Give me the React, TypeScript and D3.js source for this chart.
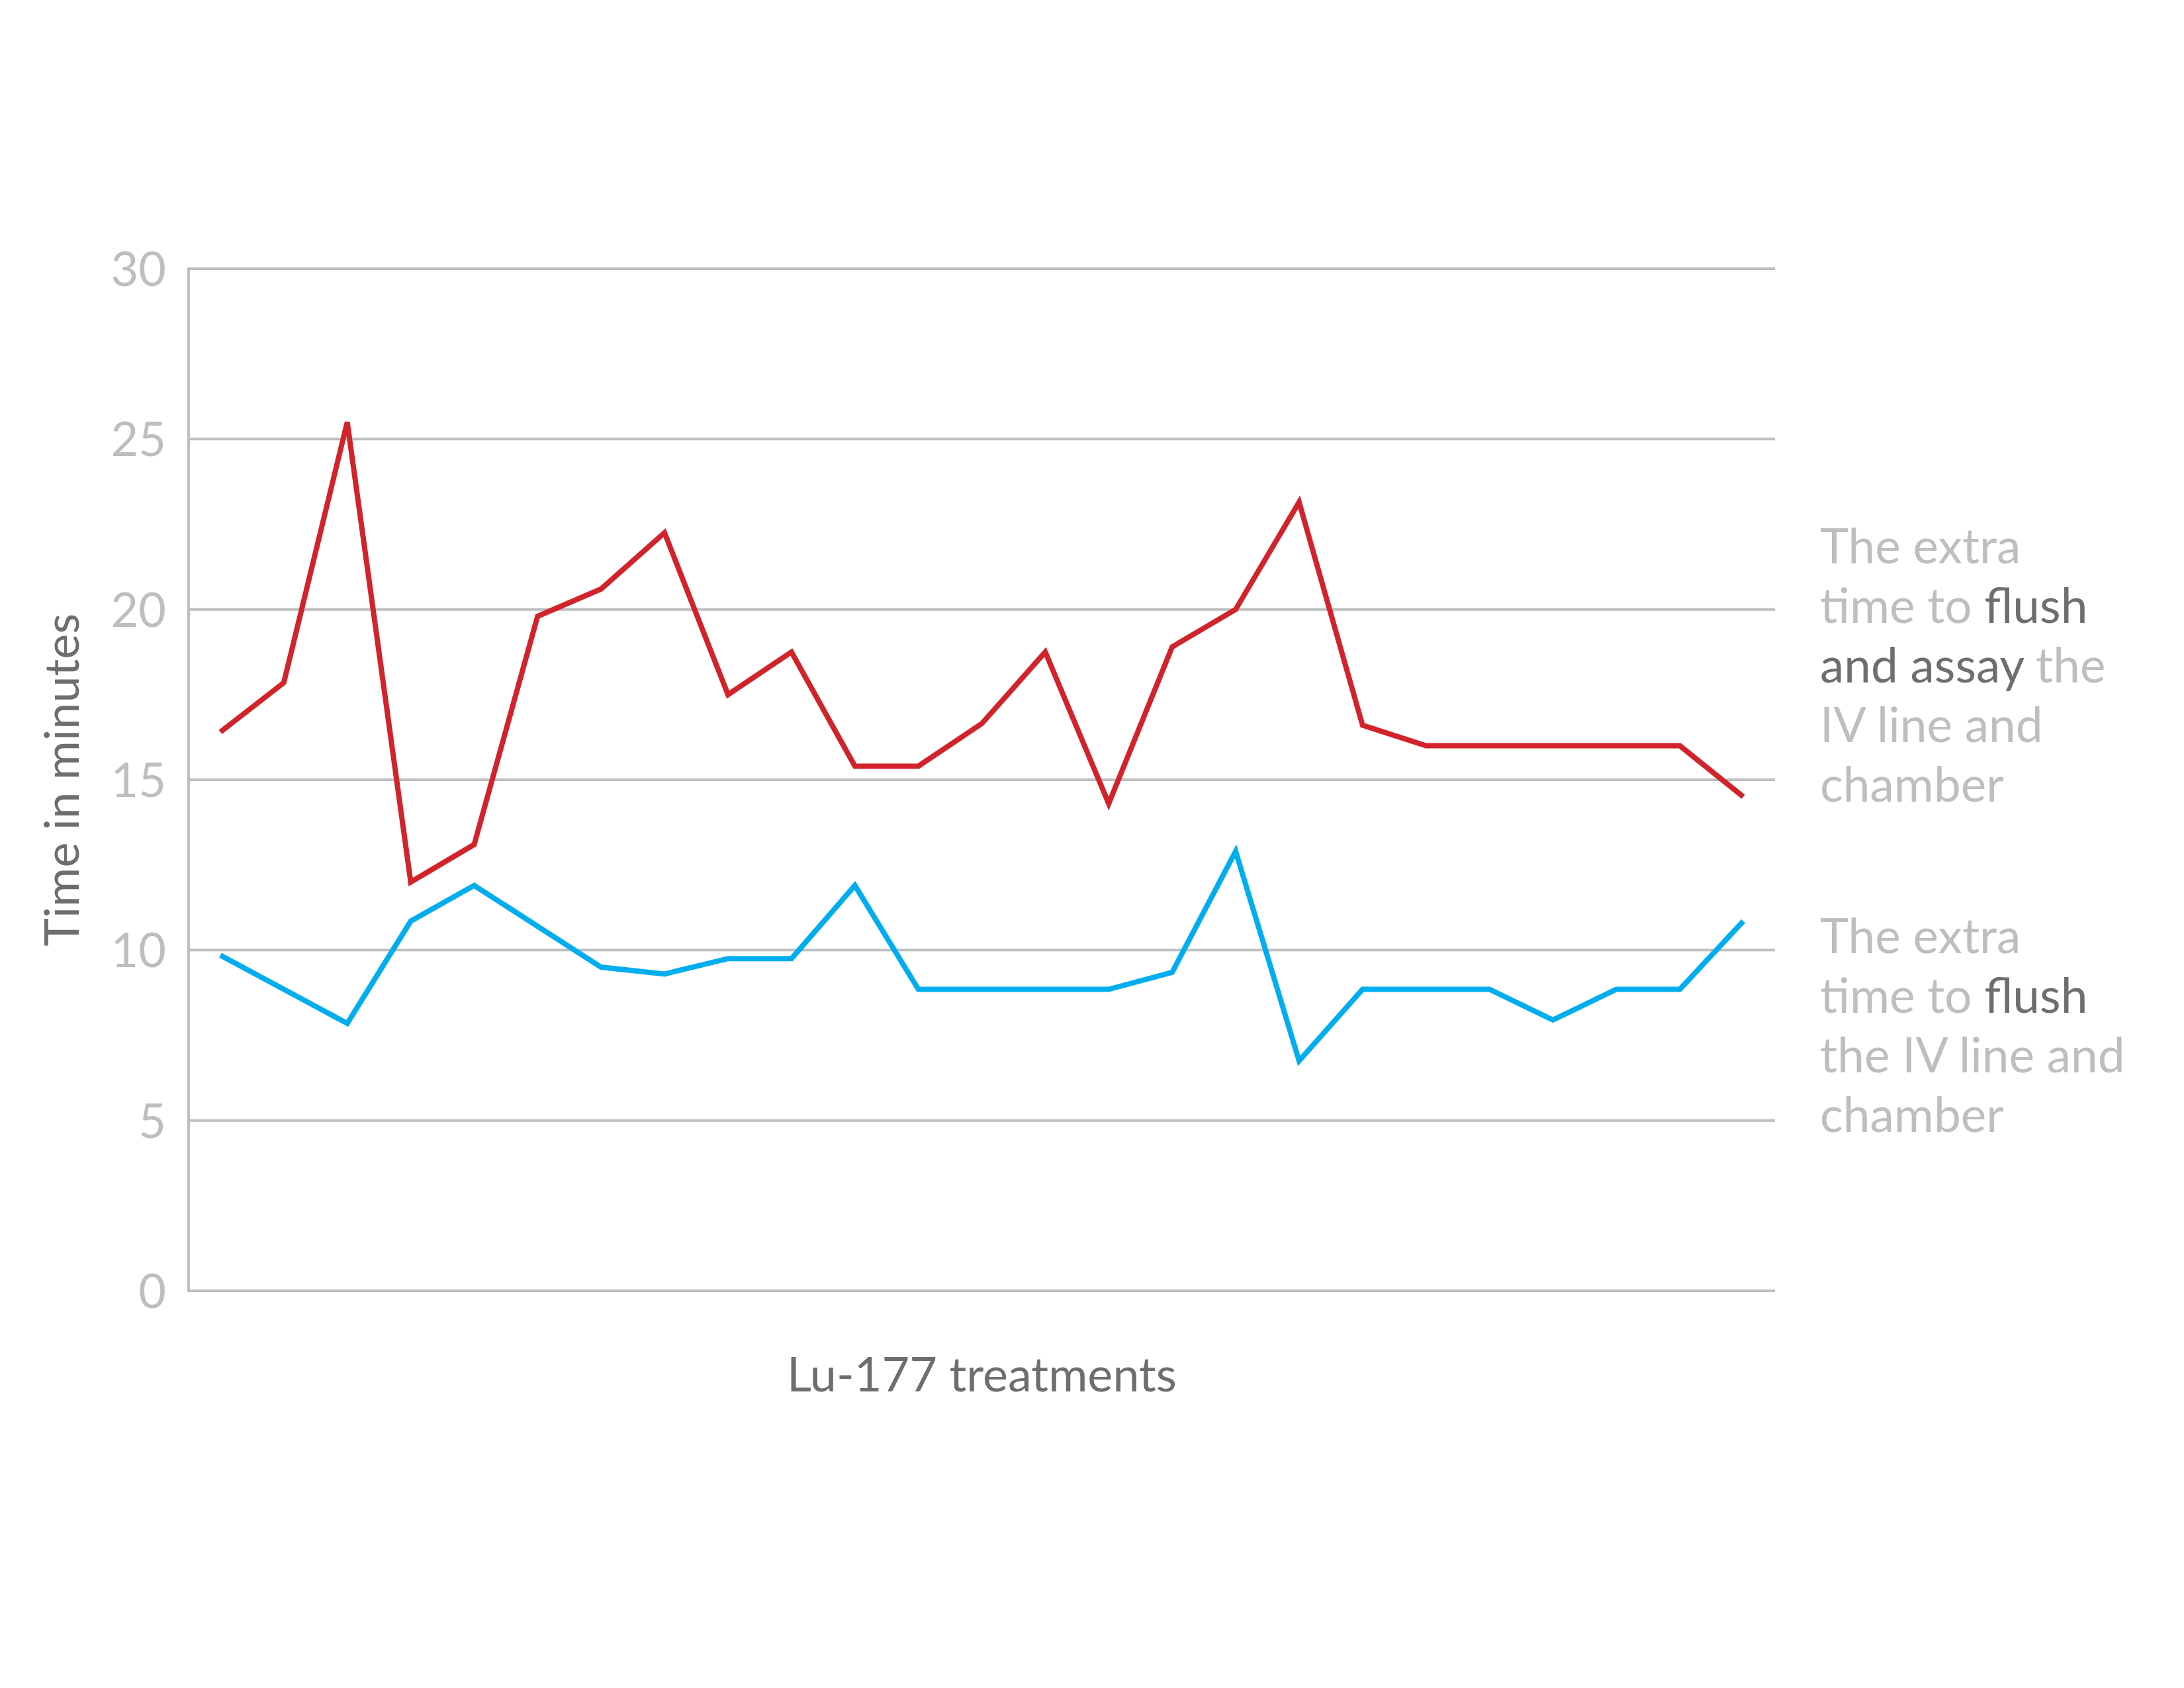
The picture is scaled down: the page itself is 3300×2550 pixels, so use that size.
import * as d3 from 'd3';

const treatments = d3.range(1, 26).map(i => `T${i}`);

const flushAndAssay = [16.4, 17.85, 25.5, 12.0, 13.1, 19.8, 20.6, 22.25, 17.5, 18.75, 15.4, 15.4, 16.65,
  18.75, 14.3, 18.9, 20.0, 23.15, 16.6, 16.0, 16.0, 16.0, 16.0, 16.0, 14.5];

const flushOnly = [9.85, 8.85, 7.85, 10.85, 11.9, 10.7, 9.5, 9.3, 9.75, 9.75, 11.9, 8.85, 8.85,
  8.85, 8.85, 9.35, 12.9, 6.75, 8.85, 8.85, 8.85, 7.95, 8.85, 8.85, 10.85];

const yTicks = [0, 5, 10, 15, 20, 25, 30];

const yTitle = 'Time in minutes';
const xTitle = 'Lu-177 treatments';

// each line is a list of [text, highlighted]
const redNote: [string, boolean][][] = [
  [['The extra', false]],
  [['time to ', false], ['flush', true]],
  [['and assay', true], [' the', false]],
  [['IV line and', false]],
  [['chamber', false]],
];
const blueNote: [string, boolean][][] = [
  [['The extra', false]],
  [['time to ', false], ['flush', true]],
  [['the IV line and', false]],
  [['chamber', false]],
];

const W = 3300, H = 2550;
const margin = { top: 406, right: 618, bottom: 600, left: 285 };
const light = '#bcbec0';
const dark = '#6d6e71';
const red = '#d2232a';
const blue = '#00aeef';
const font = "Lato, 'Open Sans', sans-serif";

function Note({ lines, x, y }: { lines: [string, boolean][][]; x: number; y: number }) {
  return (
    <text x={x} y={y} fontFamily={font} fontSize={73} style={{ whiteSpace: 'pre' }}>
      {lines.map((ln, i) => (
        <tspan key={i} x={x} y={y + i * 90}>
          {ln.map(([t, hi], j) => (
            <tspan key={j} fill={hi ? dark : light}>{t}</tspan>
          ))}
        </tspan>
      ))}
    </text>
  );
}

export default function App() {
  const iw = W - margin.left - margin.right;
  const ih = H - margin.top - margin.bottom;

  const x = d3.scaleBand<string>().domain(treatments).range([0, iw]);
  const y = d3.scaleLinear().domain([0, 30]).range([ih, 0]);
  const cx = (i: number) => (x(treatments[i]) ?? 0) + x.bandwidth() / 2;

  const line = d3.line<number>().x((_, i) => cx(i)).y(d => y(d));

  return (
    <div style={{ position: 'absolute', left: 0, top: 0 }}>
      <svg width={W} height={H} style={{ display: 'block', background: '#fff' }}>
        <g transform={`translate(${margin.left},${margin.top})`}>
          {yTicks.map(t => (
            <g key={t}>
              <line x1={0} x2={iw} y1={y(t)} y2={y(t)} stroke={light} strokeWidth={4} />
              <text x={-34} y={y(t)} dy="0.36em" textAnchor="end" fill={light}
                fontFamily={font} fontSize={72}>{t}</text>
            </g>
          ))}
          <line x1={0} x2={0} y1={y(30) - 2} y2={y(0) + 2} stroke={light} strokeWidth={4} />

          <path d={line(flushAndAssay) ?? ''} fill="none" stroke={red} strokeWidth={8}
            strokeLinejoin="miter" />
          <path d={line(flushOnly) ?? ''} fill="none" stroke={blue} strokeWidth={8}
            strokeLinejoin="miter" />

          <text transform={`translate(${119 - margin.left},${ih / 2}) rotate(-90)`} textAnchor="middle"
            fill={dark} fontFamily={font} fontSize={72}>{yTitle}</text>
          <text x={iw / 2} y={ih + 152} textAnchor="middle" fill={dark}
            fontFamily={font} fontSize={72}>{xTitle}</text>
        </g>
        <Note lines={redNote} x={2750} y={851} />
        <Note lines={blueNote} x={2750} y={1440} />
      </svg>
    </div>
  );
}
